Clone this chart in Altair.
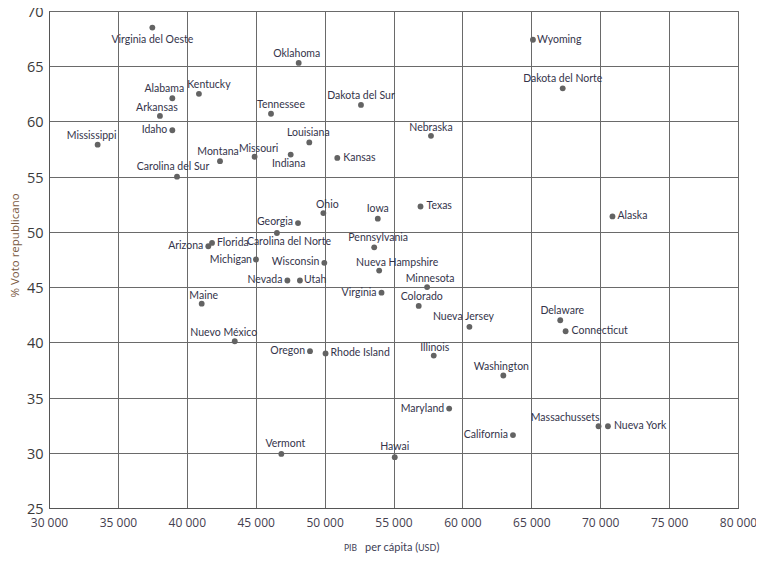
import altair as alt
import pandas as pd

# ---------------- data ----------------
states = [
    "Virginia del Oeste", "Alabama", "Kentucky", "Arkansas", "Idaho", "Mississippi",
    "Montana", "Missouri", "Carolina del Sur", "Oklahoma", "Tennessee", "Dakota del Sur",
    "Louisiana", "Indiana", "Kansas", "Nebraska", "Wyoming", "Dakota del Norte",
    "Arizona", "Florida", "Michigan", "Maine", "Nuevo México", "Ohio", "Georgia",
    "Carolina del Norte", "Iowa", "Texas", "Pennsylvania", "Wisconsin", "Nueva Hampshire",
    "Nevada", "Utah", "Minnesota", "Virginia", "Colorado", "Nueva Jersey", "Oregon",
    "Rhode Island", "Illinois", "Alaska", "Delaware", "Connecticut", "Washington",
    "Maryland", "California", "Massachussets", "Nueva York", "Vermont", "Hawai",
]
gdp = [
    37500, 38950, 40880, 38050, 38950, 33530,
    42410, 44920, 39290, 48120, 46110, 52640,
    48890, 47540, 50920, 57720, 65120, 67280,
    41560, 41830, 45020, 41080, 43480, 49910, 48070,
    46540, 53860, 56960, 53600, 49980, 53960,
    47300, 48210, 57440, 54130, 56830, 60510, 48940,
    50070, 57920, 70890, 67100, 67490, 62970,
    59040, 63670, 69880, 70560, 46860, 55090,
]
vote = [
    68.5, 62.1, 62.5, 60.5, 59.2, 57.9,
    56.4, 56.8, 55.0, 65.3, 60.7, 61.5,
    58.1, 57.0, 56.7, 58.7, 67.4, 63.0,
    48.7, 49.0, 47.5, 43.5, 40.1, 51.7, 50.8,
    49.9, 51.2, 52.3, 48.6, 47.2, 46.5,
    45.6, 45.6, 45.0, 44.5, 43.3, 41.4, 39.2,
    39.0, 38.8, 51.4, 42.0, 41.0, 37.0,
    34.0, 31.6, 32.4, 32.4, 29.9, 29.6,
]

# label placement (align, dx px, dy px) -- layout only
label_layout = {
    "Virginia del Oeste": ("center", 0, 12), "Alabama": ("center", -8, -9),
    "Kentucky": ("center", 10, -9), "Arkansas": ("center", -3, -8),
    "Idaho": ("right", -5, 0), "Mississippi": ("center", -6, -9),
    "Montana": ("center", -2, -9), "Missouri": ("center", 4, -8),
    "Carolina del Sur": ("center", -4, -10), "Oklahoma": ("center", -2, -9),
    "Tennessee": ("center", 10, -9), "Dakota del Sur": ("center", 0, -9),
    "Louisiana": ("center", -1, -9), "Indiana": ("center", -2, 9),
    "Kansas": ("left", 6, 0), "Nebraska": ("center", 0, -8),
    "Wyoming": ("left", 4, 0), "Dakota del Norte": ("center", 0, -9),
    "Arizona": ("right", -5, 0), "Florida": ("left", 5, 0),
    "Michigan": ("right", -4, 0), "Maine": ("center", 2, -8),
    "Nuevo México": ("center", -11, -8), "Ohio": ("center", 4, -8),
    "Georgia": ("right", -5, -1), "Carolina del Norte": ("center", 12, 9),
    "Iowa": ("center", 0, -10), "Texas": ("left", 6, 0),
    "Pennsylvania": ("center", 4, -9), "Wisconsin": ("right", -5, -1),
    "Nueva Hampshire": ("center", 18, -8), "Nevada": ("right", -5, 0),
    "Utah": ("left", 4, 0), "Minnesota": ("center", 3, -8),
    "Virginia": ("right", -5, 0), "Colorado": ("center", 3, -9),
    "Nueva Jersey": ("center", -6, -10), "Oregon": ("right", -5, 0),
    "Rhode Island": ("left", 5, 0), "Illinois": ("center", 1, -8),
    "Alaska": ("left", 5, 0), "Delaware": ("center", 2, -9),
    "Connecticut": ("left", 6, 0), "Washington": ("center", -2, -8),
    "Maryland": ("right", -5, 0), "California": ("right", -5, 0),
    "Massachussets": ("right", 1, -8), "Nueva York": ("left", 6, 0),
    "Vermont": ("center", 4, -10), "Hawai": ("center", 0, -10),
}

x_ticks = list(range(30000, 80001, 5000))
y_ticks = list(range(25, 71, 5))
X_DOM = [30000, 80000]
Y_DOM = [25, 70]
W, H = 689, 497

LABEL_FONT = "Lato, sans-serif"
AXIS_FONT = "Open Sans, sans-serif"
TEXT_COLOR = "#34344a"

df = pd.DataFrame({"state": states, "gdp": gdp, "vote": vote})
df["align"] = [label_layout[s][0] for s in states]
df["dx"] = [label_layout[s][1] for s in states]
df["dy"] = [label_layout[s][2] for s in states]

x_scale = alt.Scale(domain=X_DOM, nice=False, zero=False)
y_scale = alt.Scale(domain=Y_DOM, nice=False, zero=False)

x_axis = alt.Axis(
    values=x_ticks, title=None, grid=True,
    labelExpr="replace(format(datum.value, ','), ',', ' ')",
    labelFont=AXIS_FONT, labelFontSize=12, labelColor="#45404f",
    labelPadding=9, tickSize=0, labelFlush=False, labelOverlap=False,
)
y_axis = alt.Axis(
    values=y_ticks, title="% Voto republicano", grid=True,
    labelFont=AXIS_FONT, labelFontSize=14.5, labelColor="#3a3a3a",
    labelPadding=6, tickSize=0, labelOffset=1.5, labelFlush=False, labelOverlap=False,
    titleFont=AXIS_FONT, titleFontSize=11.5, titleFontWeight="normal",
    titleColor="#7a5a42", titleX=-34, titleY=234, titleBaseline="middle",
)

base = alt.Chart(df)

points = base.mark_circle(size=34, color="#636363", opacity=1).encode(
    x=alt.X("gdp:Q", scale=x_scale, axis=x_axis),
    y=alt.Y("vote:Q", scale=y_scale, axis=y_axis),
)

xr = (X_DOM[1] - X_DOM[0]) / W
yr = (Y_DOM[1] - Y_DOM[0]) / H

layers = [points]
for a in ["left", "center", "right"]:
    layers.append(
        base.transform_filter(alt.datum.align == a)
        .transform_calculate(
            gdp=f"datum.gdp + datum.dx * {xr}",
            vote=f"datum.vote - datum.dy * {yr}",
        )
        .mark_text(align=a, baseline="middle", font=LABEL_FONT, fontSize=10.5, color=TEXT_COLOR)
        .encode(
            x=alt.X("gdp:Q", scale=x_scale, axis=x_axis),
            y=alt.Y("vote:Q", scale=y_scale, axis=y_axis),
            text="state:N",
        )
    )

# x-axis title with small-caps parts
title_specs = [
    ("PIB", "right", 308, 8.5),
    ("per cápita (", "left", 316, 11),
    ("USD", "left", 369, 9),
    (")", "left", 387.5, 11),
]
for txt, al, px, fs in title_specs:
    layers.append(
        alt.Chart(pd.DataFrame({"t": [txt]}))
        .mark_text(align=al, baseline="alphabetic", font=LABEL_FONT, fontSize=fs, color="#3d3d55")
        .encode(x=alt.value(px), y=alt.value(H + 43), text="t:N")
    )

chart = (
    alt.layer(*layers)
    .properties(
        width=W, height=H,
        autosize=alt.AutoSizeParams(type="none"),
        padding={"left": 41, "top": 3, "right": 18, "bottom": 50},
    )
    .configure_view(stroke="#555555", strokeWidth=1)
    .configure_axis(domainColor="#555555", gridColor="#6a6a6a", gridWidth=1, gridOpacity=1)
)

chart.save("out.html", embed_options={"renderer": "svg", "actions": False})
